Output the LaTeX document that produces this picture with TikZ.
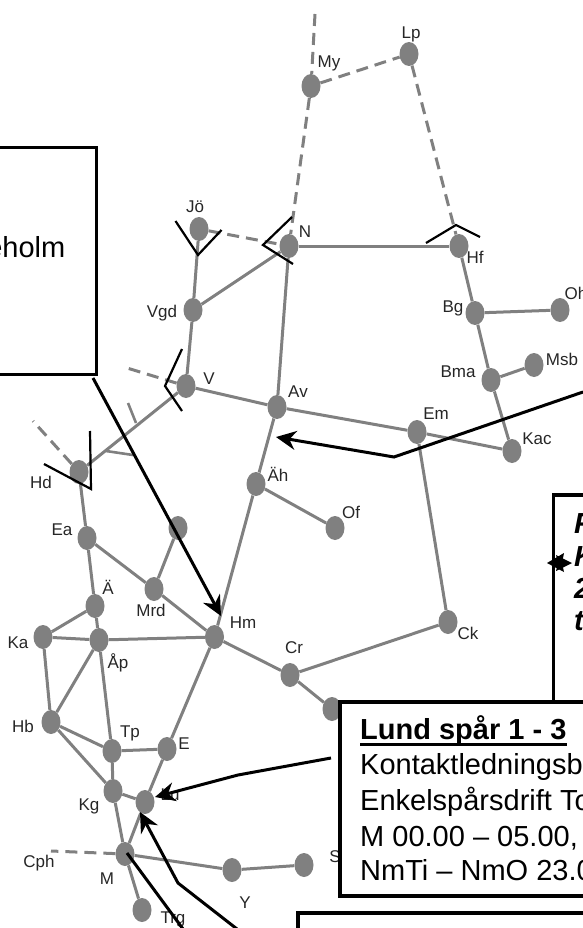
\documentclass[tikz,border=0pt]{standalone}
\usepackage{fontspec}
\setmainfont{Liberation Sans}
\usetikzlibrary{shapes.geometric,arrows.meta}
\definecolor{trk}{HTML}{808080}
\definecolor{lbl}{HTML}{262626}
\tikzset{
  stn/.style={ellipse,fill=trk,draw=none,minimum width=19pt,minimum height=24pt,inner sep=0pt},
  lab/.style={text=lbl,font=\fontsize{17}{18}\selectfont,inner sep=0pt},
  rail/.style={draw=trk,line width=3pt},
  raildash/.style={draw=trk,line width=3pt,dash pattern=on 12pt off 7pt},
  swmark/.style={draw=black,line width=2.2pt},
  swgray/.style={draw=trk,line width=2.6pt},
  callout/.style={draw=black,line width=3.2pt,fill=white,inner sep=0pt,outer sep=0pt,anchor=north west},
  pointer/.style={draw=black,line width=3pt,-{Stealth[length=20pt,width=19pt]}},
  plain/.style={draw=black,line width=3pt},
  big/.style={font=\fontsize{29}{35}\selectfont,text=black,inner sep=0pt,anchor=base west},
  bigb/.style={big,font=\fontsize{29}{35}\selectfont\bfseries},
  bigbi/.style={big,font=\fontsize{29}{35}\selectfont\bfseries\itshape},
}
\begin{document}
\begin{tikzpicture}[x=1pt,y=-1pt]
\useasboundingbox (0,0) rectangle (583,928);
\clip (0,0) rectangle (583,928);
% stations
\foreach \n/\x/\y in {Lp/409/54,My/311/86,N/289/246,Hf/459/246,Jo/199/229,Vgd/193/310,Bg/475/313,Oh/560/310,
  V/186/386,Av/277/407,Bma/491/380,Msb/534/365,Em/417/432,Kac/512/451,Ah/256/484,Of/335/528,Hd/79/472,Ea/87/538,
  Un/178/528,Mrd/154/589,Ae/95/606,Hm/214.5/637,Ck/448/622,Ka/43/637,Ap/99/640,Cr/290/675,Hid/332/709,Hb/51/722,
  Tp/112/751,E/167/749,Kg/113/791,Lu/145/802,M/125/854,Yn/232/870,Sn/304/865,Trg/142/910}
  {\node[stn] (\n) at (\x,\y) {};}
% free ends
\coordinate (topend) at (315,14);
\coordinate (vend) at (127,368);
\coordinate (hdend) at (33,421);
\coordinate (cphend) at (51,851);
% solid track
\foreach \a/\b in {Jo/Vgd,Vgd/N,Vgd/V,N/Av,N/Hf,Hf/Bg,Bg/Oh,Bg/Bma,Bma/Msb,Bma/Kac,V/Av,V/Hd,Av/Em,Em/Kac,Em/Ck,
  Av/Ah,Ah/Of,Ah/Hm,Hd/Ea,Ea/Ae,Ea/Mrd,Mrd/Un,Mrd/Hm,Ae/Ka,Ae/Ap,Ka/Ap,Ap/Hm,Hm/Cr,Cr/Ck,Cr/Hid,Hm/E,Ka/Hb,Ap/Hb,
  Ap/Tp,Hb/Tp,Hb/Kg,Tp/E,Tp/Kg,E/Lu,Kg/Lu,Kg/M,Lu/M,M/Yn,Yn/Sn,M/Trg}
  {\draw[rail] (\a) -- (\b);}
% dashed track
\foreach \a/\b in {topend/My,My/Lp,Lp/Hf,My/N,Jo/N,V/vend,Hd/hdend,M/cphend}
  {\draw[raildash] (\a) -- (\b);}
% small grey switch marks
\coordinate (ga1) at (128,403); \coordinate (ga2) at (136,423);
\coordinate (gb1) at (106,451); \coordinate (gb2) at (133,455);
\draw[swgray] (ga1) -- (ga2);
\draw[swgray] (gb1) -- (gb2);
% black switch brackets
\coordinate (s1a) at (175.5,221); \coordinate (s1b) at (198,255); \coordinate (s1c) at (221.5,230);
\coordinate (s2a) at (292,217); \coordinate (s2b) at (263,245); \coordinate (s2c) at (293,264);
\coordinate (s3a) at (426,243); \coordinate (s3b) at (456,225); \coordinate (s3c) at (480,237);
\coordinate (s4a) at (182,349); \coordinate (s4b) at (165,386); \coordinate (s4c) at (182,411);
\coordinate (s5a) at (90,431); \coordinate (s5b) at (91,489); \coordinate (s5c) at (44,464);
\draw[swmark] (s1a) -- (s1b) -- (s1c);
\draw[swmark] (s2a) -- (s2b) -- (s2c);
\draw[swmark] (s3a) -- (s3b) -- (s3c);
\draw[swmark] (s4a) -- (s4b) -- (s4c);
\draw[swmark] (s5a) -- (s5b) -- (s5c);
% labels
\foreach \n/\x/\y/\t in {lLp/411/34/Lp,lMy/329/63/My,lJo/195/207/Jö,lN/305/232/N,lHf/475/257/Hf,lOh/576/293/Oh,
  lVgd/162/313/Vgd,lBg/453/308/Bg,lV/209/379/V,lAv/298/392/Av,lMsb/562/359/Msb,lBma/458/372/Bma,lEm/436/414/Em,
  lKac/537/439/Kac,lAh/278/474/Äh,lOf/351/512/Of,lHd/41/482/Hd,lEa/62/530/Ea,lAe/108/587/Ä,lMrd/151/610/Mrd,
  lHm/243/623/Hm,lCk/468/633/Ck,lKa/18/643/Ka,lAp/118/663/Åp,lCr/294/648/Cr,lHb/23/726/Hb,lTp/130/733/Tp,
  lE/184/744/E,lKg/89/806/Kg,lLu/170/795/Lu,lCph/39/863/Cph,lM/107/879/M,lY/245/903/Y,lS/335/857/S,lTrg/173/919/Trg}
  {\node[lab] (\n) at (\x,\y) {\t};}
% callouts
\node[callout,minimum width=116.5pt,minimum height=227pt] (leftbox) at (-20,147.5) {};
\node[big,anchor=base east] (leftt) at (65.5,257) {eholm};
\node[callout,minimum width=60pt,minimum height=240pt] (rightbox) at (553.5,495) {};
\node[bigbi] (r1) at (574,533) {F};
\node[bigbi] (r2) at (574,566) {K};
\node[bigbi] (r3) at (574,598) {2};
\node[bigbi] (r4) at (574,630) {t};
\fill[black] (547,563) -- (564,553) -- (562,563) -- (564,572) -- cycle;
\fill[black] (572,563) -- (556,555) -- (558,563) -- (556,571) -- cycle;
\node[callout,minimum width=270pt,minimum height=194pt] (lund) at (340,702) {};
\node[bigb] (l1) at (360,739) {Lund spår 1 - 3};
\draw[line width=2.8pt] (l1.base west)+(0,5.5) -- (567,744.5);
\node[big] (l2) at (360,774) {Kontaktledningsb};
\node[big] (l3) at (360,810) {Enkelspårsdrift To};
\node[big] (l4) at (360,846) {M 00.00 – 05.00,};
\node[big] (l5) at (360,880) {NmTi – NmO 23.0};
\node[callout,minimum width=300pt,minimum height=40pt] (bottombox) at (298,913) {};
% leader lines
\coordinate (a1s) at (93,378); \coordinate (a1t) at (221,616);
\draw[pointer] (a1s) -- (a1t);
\coordinate (a2s) at (583,392); \coordinate (a2b) at (394,457); \coordinate (a2t) at (276,437);
\draw[pointer] (a2s) -- (a2b) -- (a2t);
\coordinate (a3s) at (331,758); \coordinate (a3b) at (238,775); \coordinate (a3t) at (155,797);
\draw[pointer] (a3s) -- (a3b) -- (a3t);
\coordinate (a4s) at (237,929); \coordinate (a4b) at (178,883); \coordinate (a4t) at (140,812);
\draw[pointer] (a4s) -- (a4b) -- (a4t);
\coordinate (a5s) at (127,853); \coordinate (a5t) at (183,929);
\draw[plain] (a5s) -- (a5t);
\end{tikzpicture}
\end{document}
